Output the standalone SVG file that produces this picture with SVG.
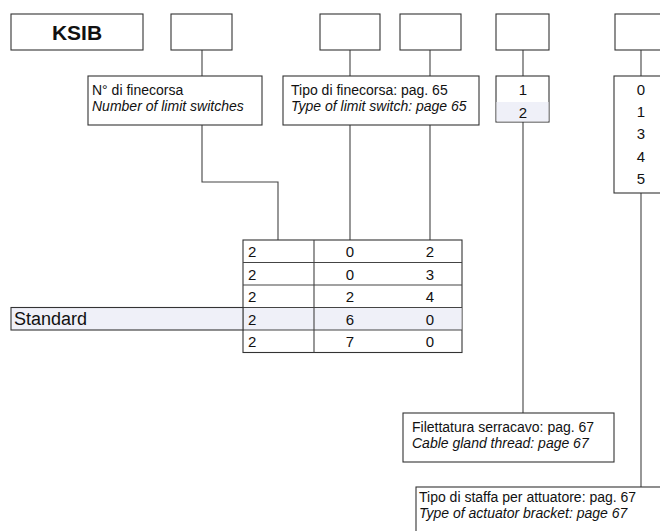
<svg xmlns="http://www.w3.org/2000/svg" width="660" height="531" viewBox="0 0 660 531">
<style>
.b{fill:#fff;stroke:#333;stroke-width:1.1}
.h{fill:#eff0f8}
.l{fill:none;stroke:#444;stroke-width:1.1}
.t{font-family:"Liberation Sans",Arial,sans-serif;font-size:14px;fill:#111}
.d{font-family:"Liberation Sans",Arial,sans-serif;font-size:15px;fill:#111}
.i{font-style:italic}
.c{text-anchor:middle}
.k{font-family:"Liberation Sans",Arial,sans-serif;font-size:21px;font-weight:bold;fill:#111;text-anchor:middle}
</style>
<rect width="660" height="531" fill="#fff"/>
<g id="connectors">
<path class="l" d="M202 50V76M202 125V182H278V240"/>
<path class="l" d="M350 50V76M350 125V240"/>
<path class="l" d="M430 50V76M430 125V240"/>
<path class="l" d="M523 50V76M523 122V413"/>
<path class="l" d="M641 50V76M641 193V487"/>
</g>
<g id="ksib"><rect class="b" x="11" y="14" width="132" height="36"/><text class="k" x="77" y="40">KSIB</text></g>
<g id="box2"><rect class="b" x="171" y="14" width="61" height="36"/></g>
<g id="box3"><rect class="b" x="320" y="14" width="60" height="36"/></g>
<g id="box4"><rect class="b" x="400" y="14" width="61" height="36"/></g>
<g id="box5"><rect class="b" x="496" y="14" width="53" height="36"/></g>
<g id="box6"><rect class="b" x="615" y="14" width="60" height="36"/></g>
<g id="n-finecorsa"><rect class="b" x="88" y="76" width="174" height="49"/>
<text class="t" x="92" y="95">N° di finecorsa</text><text class="t i" x="92" y="110.5">Number of limit switches</text></g>
<g id="tipo-finecorsa"><rect class="b" x="283" y="76" width="196" height="49"/>
<text class="t" x="291" y="95">Tipo di finecorsa: pag. 65</text><text class="t i" x="291" y="110.5">Type of limit switch: page 65</text></g>
<g id="gland-opts"><rect class="b" x="496" y="76" width="53" height="46"/><rect class="h" x="496.5" y="102" width="52" height="19.5"/>
<text class="d c" x="523" y="95">1</text><text class="d c" x="523" y="117.5">2</text></g>
<g id="bracket-opts"><rect class="b" x="614" y="76" width="60" height="117"/>
<text class="d c" x="641" y="95">0</text><text class="d c" x="641" y="117">1</text><text class="d c" x="641" y="139">3</text><text class="d c" x="641" y="161.5">4</text><text class="d c" x="641" y="184">5</text></g>
<g id="table">
<rect class="b" x="243" y="240" width="219" height="112.5"/>
<rect class="h" x="243.5" y="307.5" width="218" height="22.5"/>
<path class="l" d="M243 262.5H462M243 285H462M243 307.5H462M243 330H462M314 240V352.5"/>
<g class="d">
<text x="248" y="257">2</text><text class="c" x="350" y="257">0</text><text class="c" x="430" y="257">2</text>
<text x="248" y="279.5">2</text><text class="c" x="350" y="279.5">0</text><text class="c" x="430" y="279.5">3</text>
<text x="248" y="302">2</text><text class="c" x="350" y="302">2</text><text class="c" x="430" y="302">4</text>
<text x="248" y="324.5">2</text><text class="c" x="350" y="324.5">6</text><text class="c" x="430" y="324.5">0</text>
<text x="248" y="347">2</text><text class="c" x="350" y="347">7</text><text class="c" x="430" y="347">0</text>
</g></g>
<g id="standard"><rect class="h" x="11" y="307.5" width="232" height="22.5" stroke="#333" stroke-width="1.1"/>
<text class="t" x="14" y="325" style="font-size:18px">Standard</text></g>
<g id="filettatura"><rect class="b" x="403" y="413" width="211" height="49"/>
<text class="t" x="412" y="432">Filettatura serracavo: pag. 67</text><text class="t i" x="412" y="447.5">Cable gland thread: page 67</text></g>
<g id="staffa"><rect class="b" x="416" y="487" width="260" height="60"/>
<text class="t" x="419" y="502">Tipo di staffa per attuatore: pag. 67</text><text class="t i" x="419" y="517.5">Type of actuator bracket: page 67</text></g>
</svg>
